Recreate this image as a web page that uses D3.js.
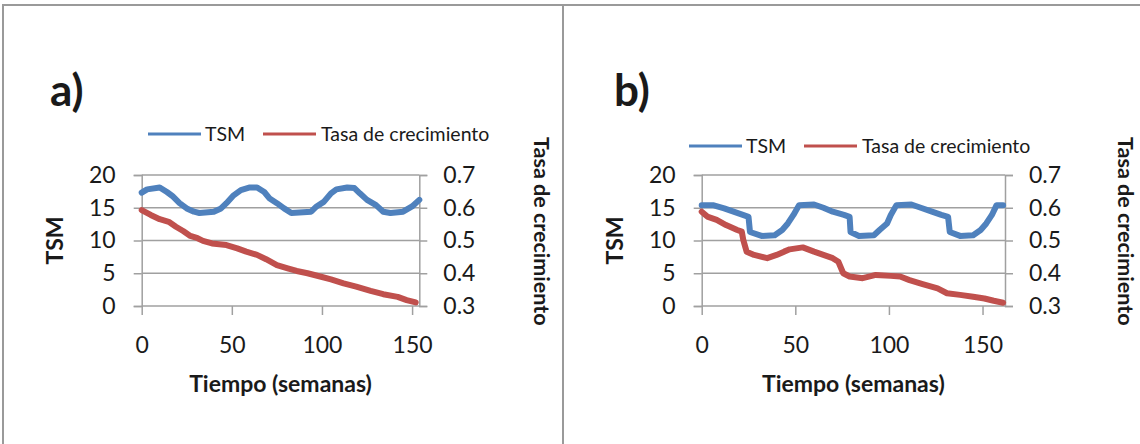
<!DOCTYPE html>
<html><head><meta charset="utf-8">
<script src="https://cdn.jsdelivr.net/npm/d3@7"></script>
<style>
body{margin:0;background:#fff}
svg{display:block}
text{font-family:Lato,"Open Sans",sans-serif;fill:#1a1a1a}
</style>
</head><body>
<svg id="c" width="1140" height="444"></svg>
<script>
// ---- data ----
const panelLabels = ["a)", "b)"];
const seriesNames = ["TSM", "Tasa de crecimiento"];
const xTitle = "Tiempo (semanas)";
const leftTitle = "TSM";
const rightTitle = "Tasa de crecimiento";
const xTicks = [0, 50, 100, 150];
const leftTicks = [0, 5, 10, 15, 20];
const rightTicks = [0.3, 0.4, 0.5, 0.6, 0.7];

// panel a
const tsmA_weeks = [0,3,10,14,17,21,25,29,32,40,44,47,51,55,60,64,68,71,75,79,83,94,97,101,105,108,114,118,121,125,130,134,138,145,150,154];
const tsmA_vals  = [17.3,17.8,18.1,17.4,16.8,15.7,14.9,14.4,14.2,14.4,14.9,15.7,16.9,17.7,18.1,18.1,17.4,16.4,15.7,14.9,14.2,14.4,15.2,15.9,17.2,17.8,18.1,18.0,17.2,16.2,15.4,14.4,14.2,14.4,15.2,16.2];
const rateA_weeks = [0,5,10,15,19,23,27,31,34,39,47,53,58,64,69,75,81,86,92,99,105,112,119,127,134,142,147,152];
const rateA_vals  = [0.593,0.578,0.565,0.557,0.542,0.529,0.514,0.507,0.499,0.491,0.486,0.476,0.466,0.456,0.443,0.425,0.415,0.407,0.400,0.390,0.381,0.369,0.359,0.346,0.336,0.328,0.318,0.311];

// panel b
const tsmB_weeks = [0,6,12,17,22,25,25.8,32,39,43,46,49,52,60,65,70,76,79,79.5,84,92,95,99,101,104,112,117,123,128,131.6,132.5,138,145,149,152,155,157.5,161];
const tsmB_vals  = [15.4,15.4,14.9,14.4,13.9,13.6,11.3,10.7,10.8,11.6,12.6,13.9,15.4,15.5,15.0,14.4,13.9,13.6,11.3,10.7,10.8,11.6,12.6,13.9,15.4,15.5,15.0,14.4,13.9,13.6,11.3,10.7,10.8,11.6,12.6,13.9,15.4,15.4];
const rateB_weeks = [0,3,8,13,19,21.4,22.2,24,28,35,40,44,47,54,60,65,70,73,75.6,79,86,93,101,106,111,118,126,131,138,145,151,156,161];
const rateB_vals  = [0.588,0.573,0.563,0.547,0.532,0.527,0.502,0.466,0.456,0.446,0.456,0.466,0.473,0.479,0.466,0.456,0.446,0.435,0.400,0.390,0.385,0.395,0.392,0.390,0.379,0.367,0.354,0.339,0.334,0.328,0.323,0.316,0.310];

// ---- layout ----
const BLUE = "#4F81BD", RED = "#C0504D", GRID = "#A0A0A0";
const panels = [
  {label: panelLabels[0], x0: 141.7, x1: 419.3, xMax: 154, labX: 50, legY: 134, legX: 148, titleRX: 534, leftTitleX: 55,
   tsm: [tsmA_weeks, tsmA_vals], rate: [rateA_weeks, rateA_vals]},
  {label: panelLabels[1], x0: 701.7, x1: 1005, xMax: 162, labX: 614, legY: 146, legX: 689, titleRX: 1118, leftTitleX: 615,
   tsm: [tsmB_weeks, tsmB_vals], rate: [rateB_weeks, rateB_vals]}
];
const yTop = 175, yBot = 306;

const svg = d3.select("#c");
svg.append("rect").attr("x", 0).attr("y", 0).attr("width", 1140).attr("height", 444).attr("fill", "#fff");
// borders
svg.append("rect").attr("x", 3).attr("y", 5).attr("width", 1145).attr("height", 450)
  .attr("fill", "none").attr("stroke", "#9a9a9a").attr("stroke-width", 2);
svg.append("line").attr("x1", 563).attr("x2", 563).attr("y1", 5).attr("y2", 444)
  .attr("stroke", "#9a9a9a").attr("stroke-width", 2);

panels.forEach(p => {
  const g = svg.append("g");
  const x = d3.scaleLinear().domain([0, p.xMax]).range([p.x0, p.x1]);
  const yL = d3.scaleLinear().domain([0, 20]).range([yBot, yTop]);
  const yR = d3.scaleLinear().domain([0.3, 0.7]).range([yBot, yTop]);

  // gridlines
  g.append("g").selectAll("line").data(leftTicks).join("line")
    .attr("x1", p.x0).attr("x2", p.x1).attr("y1", d => yL(d)).attr("y2", d => yL(d))
    .attr("stroke", GRID).attr("stroke-width", 1.5);

  // left axis
  const la = g.append("g").attr("transform", `translate(${p.x0},0)`)
    .call(d3.axisLeft(yL).tickValues(leftTicks).tickSize(8).tickPadding(18).tickFormat(d3.format("d")));
  // right axis
  const ra = g.append("g").attr("transform", `translate(${p.x1},0)`)
    .call(d3.axisRight(yR).tickValues(rightTicks).tickSize(8).tickPadding(16).tickFormat(d3.format(".1f")));
  // bottom axis
  const ba = g.append("g").attr("transform", `translate(0,${yBot})`)
    .call(d3.axisBottom(x).tickValues(xTicks).tickSize(9).tickPadding(22).tickFormat(d3.format("d")));
  [la, ra, ba].forEach(a => {
    a.select(".domain").attr("stroke", GRID).attr("stroke-width", 1.5);
    a.selectAll(".tick line").attr("stroke", GRID).attr("stroke-width", 1.5);
    a.selectAll(".tick text").attr("font-size", 23).attr("font-family", "Lato").attr("fill", "#1a1a1a");
  });
  ba.select(".domain").remove();

  // series
  const lineT = d3.line().x(d => x(d[0])).y(d => yL(d[1]));
  const lineR = d3.line().x(d => x(d[0])).y(d => yR(d[1]));
  g.append("path").datum(d3.zip(p.tsm[0], p.tsm[1])).attr("d", lineT)
    .attr("fill", "none").attr("stroke", BLUE).attr("stroke-width", 6).attr("stroke-linejoin", "round").attr("stroke-linecap", "round");
  g.append("path").datum(d3.zip(p.rate[0], p.rate[1])).attr("d", lineR)
    .attr("fill", "none").attr("stroke", RED).attr("stroke-width", 6).attr("stroke-linejoin", "round").attr("stroke-linecap", "round");

  // panel label
  g.append("text").attr("x", p.labX).attr("y", 106).attr("font-size", 44).attr("font-weight", "bold").text(p.label);

  // legend
  const lg = g.append("g").attr("transform", `translate(${p.legX},${p.legY})`);
  lg.append("line").attr("x1", 0).attr("x2", 53).attr("stroke", BLUE).attr("stroke-width", 3);
  lg.append("text").attr("x", 57).attr("y", 7).attr("font-size", 19.5).text(seriesNames[0]);
  lg.append("line").attr("x1", 115).attr("x2", 168).attr("stroke", RED).attr("stroke-width", 3);
  lg.append("text").attr("x", 173).attr("y", 7).attr("font-size", 19.5).text(seriesNames[1]);

  // axis titles
  g.append("text").attr("x", (p.x0 + p.x1) / 2).attr("y", 392).attr("text-anchor", "middle")
    .attr("font-size", 23).attr("font-weight", "bold").text(xTitle);
  g.append("text").attr("transform", `translate(${p.leftTitleX + 8},${(yTop + yBot) / 2}) rotate(-90)`)
    .attr("text-anchor", "middle").attr("font-size", 23).attr("font-weight", "bold").text(leftTitle);
  g.append("text").attr("transform", `translate(${p.titleRX},137) rotate(90)`)
    .attr("text-anchor", "start").attr("font-size", 21.5).attr("font-weight", "bold").text(rightTitle);
});
</script>
</body></html>
